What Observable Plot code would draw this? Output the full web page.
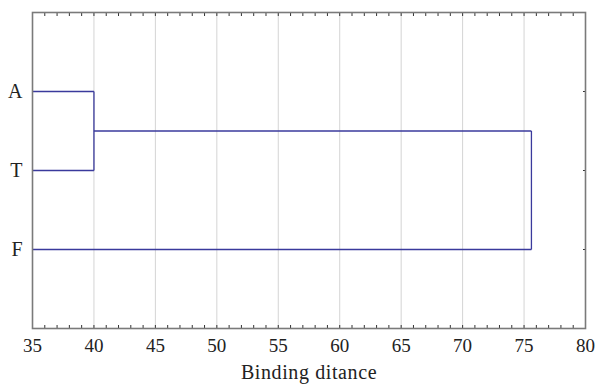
<!DOCTYPE html>
<html>
<head>
<meta charset="utf-8">
<script src="https://cdn.jsdelivr.net/npm/d3@7"></script>
<script src="https://cdn.jsdelivr.net/npm/@observablehq/plot@0.6"></script>
<style>
  html, body { margin: 0; padding: 0; background: #fff; }
  #chart svg g[aria-label="x-axis tick label"] text { font-size: 19px; }
  #chart svg g[aria-label="y-axis tick label"] text { font-size: 20px; }
  #chart svg g[aria-label="x-axis label"] text { font-size: 20px; letter-spacing: 0.6px; }
</style>
</head>
<body>
<div id="chart"></div>
<script>
// Leaves of the dendrogram (top to bottom)
const leaves = ["A", "T", "F"];
// Merges: left child, right child, linkage distance
const mergeLeft = ["A", "A+T"];
const mergeRight = ["T", "F"];
const mergeHeight = [40, 75.6];
const mergeName = ["A+T", "A+T+F"];
// Axis
const xTicks = [35, 40, 45, 50, 55, 60, 65, 70, 75, 80];
const xLabel = "Binding ditance";

// Build node positions
const nodes = new Map();
leaves.forEach((name, i) => nodes.set(name, {x: 35, y: i + 1}));
const segs = [];
mergeName.forEach((name, i) => {
  const a = nodes.get(mergeLeft[i]);
  const b = nodes.get(mergeRight[i]);
  const h = mergeHeight[i];
  segs.push({x1: a.x, y1: a.y, x2: h, y2: a.y});
  segs.push({x1: b.x, y1: b.y, x2: h, y2: b.y});
  segs.push({x1: h, y1: a.y, x2: h, y2: b.y});
  nodes.set(name, {x: h, y: (a.y + b.y) / 2});
});

const yPos = leaves.map((d, i) => i + 1);
const minor = d3.range(35, 81, 1);

const chart = Plot.plot({
  width: 596,
  height: 387,
  marginLeft: 32,
  marginRight: 11,
  marginTop: 12,
  marginBottom: 59,
  style: {fontFamily: "Liberation Serif, serif", fontSize: "18px", color: "#222", background: "#fff"},
  x: {domain: [35, 80]},
  y: {domain: [4, 0]},
  marks: [
    Plot.gridX(d3.range(40, 80, 5), {stroke: "#d4d4d4", strokeOpacity: 1, strokeWidth: 1}),
    Plot.axisX({anchor: "bottom", ticks: xTicks, tickSize: 0, tickPadding: 10, label: xLabel, labelAnchor: "center", labelArrow: "none", labelOffset: 50}),
    Plot.axisX({anchor: "bottom", ticks: minor, tickSize: -3, tickFormat: () => "", label: null, stroke: "#333"}),
    Plot.axisX({anchor: "top", ticks: minor, tickSize: -3, tickFormat: () => "", label: null, stroke: "#333"}),
    Plot.axisY({anchor: "left", ticks: yPos, tickSize: 0, tickPadding: 10, tickFormat: (d) => leaves[d - 1], label: null}),
    Plot.axisY({anchor: "right", ticks: yPos, tickSize: -3, tickFormat: () => "", label: null, stroke: "#333"}),
    Plot.link(segs, {x1: "x1", y1: "y1", x2: "x2", y2: "y2", stroke: "#3a3a9c", strokeWidth: 1.3}),
    Plot.frame({stroke: "#7a7a7a", strokeWidth: 1.6})
  ]
});
document.getElementById("chart").appendChild(chart);
</script>
</body>
</html>
